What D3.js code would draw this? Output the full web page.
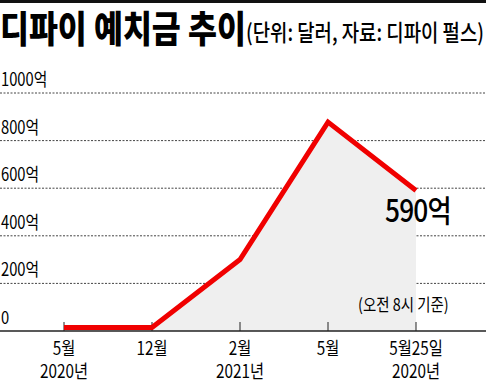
<!DOCTYPE html>
<head>
<meta charset="utf-8" />
<script src="https://d3js.org/d3.v7.min.js"></script>
<style>
    body { margin: 0; background: #fff; }
    svg { display: block; font-family: "Noto Sans CJK KR", sans-serif; }
</style>
</head>
<body>
<div id="chart"></div>
<script>
    // 값 (단위: 억 달러)
    var months = ["5월", "12월", "2월", "5월 ", "5월25일"];
    var years = ["2020년", "", "2021년", "", "2020년"];
    var deposits = [15, 15, 300, 878, 590];
    var yTicks = [0, 200, 400, 600, 800, 1000];

    var width = 486, height = 382;

    var svg = d3.select("#chart").append("svg")
        .attr("width", width)
        .attr("height", height);

    var x = d3.scalePoint().domain(months).range([64, 416]);
    var y = d3.scaleLinear().domain([0, 1000]).range([331, 93]);

    // top rule
    svg.append("rect").attr("x", 0).attr("y", 0).attr("width", width).attr("height", 3).attr("fill", "#111");

    // title
    svg.append("text")
        .attr("transform", "translate(0,43) scale(0.85,1)")
        .attr("font-size", 37).attr("font-weight", 900)
        .text("디파이 예치금 추이");
    svg.append("text")
        .attr("transform", "translate(246,41) scale(0.82,1)")
        .attr("font-size", 23).attr("font-weight", 500)
        .text("(단위: 달러, 자료: 디파이 펄스)");

    // grid
    svg.append("g").selectAll("line")
        .data(yTicks.filter(function(d) { return d > 0; }))
        .join("line")
        .attr("x1", 0).attr("x2", width)
        .attr("y1", function(d) { return y(d); })
        .attr("y2", function(d) { return y(d); })
        .attr("stroke", "#444").attr("stroke-width", 1)
        .attr("stroke-dasharray", "2,1.5");

    svg.append("g").selectAll("text")
        .data(yTicks)
        .join("text")
        .attr("transform", function(d) { return "translate(1," + (y(d) - 7) + ") scale(0.82,1)"; })
        .attr("font-size", 18)
        .text(function(d) { return d === 0 ? "0" : d + "억"; });

    // area + line
    var data = months.map(function(m, i) { return { m: m, v: deposits[i] }; });

    svg.append("path")
        .datum(data)
        .attr("fill", "#efefef")
        .attr("d", d3.area()
            .x(function(d) { return x(d.m); })
            .y0(y(0))
            .y1(function(d) { return y(d.v); }));

    // baseline + ticks
    svg.append("line").attr("x1", 0).attr("x2", width).attr("y1", y(0)).attr("y2", y(0))
        .attr("stroke", "#222").attr("stroke-width", 1.5);
    svg.append("g").selectAll("line")
        .data(months)
        .join("line")
        .attr("x1", function(d) { return x(d); })
        .attr("x2", function(d) { return x(d); })
        .attr("y1", y(0) - 9).attr("y2", y(0))
        .attr("stroke", "#222").attr("stroke-width", 1);

    svg.append("path")
        .datum(data)
        .attr("fill", "none")
        .attr("stroke", "#f00000")
        .attr("stroke-width", 5)
        .attr("d", d3.line()
            .x(function(d) { return x(d.m); })
            .y(function(d) { return y(d.v); }));

    // x labels
    svg.append("g").selectAll("text")
        .data(months)
        .join("text")
        .attr("transform", function(d) { return "translate(" + x(d) + ",355) scale(0.85,1)"; })
        .attr("text-anchor", "middle")
        .attr("font-size", 18)
        .text(function(d) { return d.trim(); });
    svg.append("g").selectAll("text")
        .data(months)
        .join("text")
        .attr("transform", function(d) { return "translate(" + x(d) + ",378) scale(0.85,1)"; })
        .attr("text-anchor", "middle")
        .attr("font-size", 18)
        .text(function(d, i) { return years[i]; });

    // annotations
    var last = data[data.length - 1];
    svg.append("text")
        .attr("transform", "translate(" + (x(last.m) - 31) + "," + (y(last.v) + 31) + ") scale(0.85,1)")
        .attr("font-size", 31).attr("font-weight", 500)
        .attr("letter-spacing", -1)
        .text(last.v + "억");
    svg.append("text")
        .attr("transform", "translate(358,311) scale(0.85,1)")
        .attr("font-size", 17)
        .text("(오전 8시 기준)");
</script>
</body>
